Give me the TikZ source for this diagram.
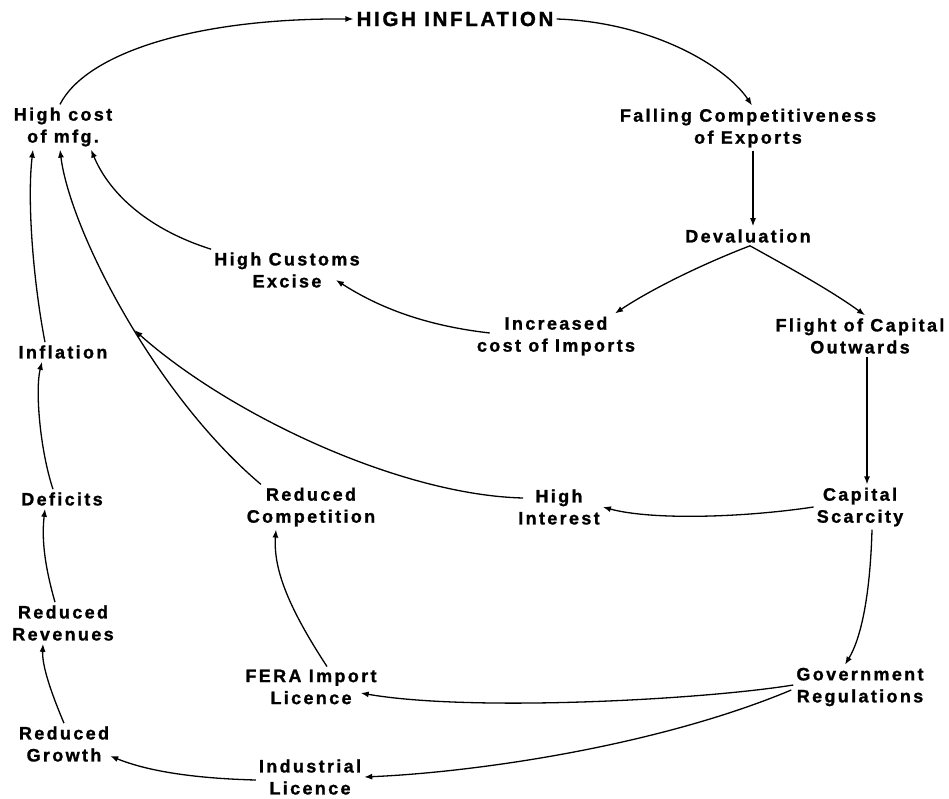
\documentclass[tikz,border=0pt]{standalone}
\usepackage{fontspec}
\setmainfont{Liberation Sans}[LetterSpace=13,BoldFeatures={FakeBold=1.2}]
\usetikzlibrary{arrows.meta,calc}
\begin{document}
\begin{tikzpicture}[x=1pt,y=-1pt,
  lbl/.style={font=\fontsize{18}{22}\selectfont\bfseries, align=center, inner sep=3pt},
  big/.style={font=\fontsize{20.5}{24}\selectfont\bfseries, inner sep=3pt},
  arr/.style={draw=black, line width=1.3pt, -{Latex[length=8pt,width=6pt]}}]
\useasboundingbox (0,0) rectangle (949,798);
% nodes
\node[big] (hi)   at (455,19)  {HIGH INFLATION};
\node[lbl] (hcm)  at (63,127)  {High cost\\of mfg.};
\node[lbl] (fc)   at (748,128) {Falling Competitiveness\\of Exports};
\node[lbl] (dev)  at (748,236) {Devaluation};
\node[lbl] (hce)  at (287,270) {High Customs\\Excise};
\node[lbl] (inc)  at (556,336) {Increased\\cost of Imports};
\node[lbl] (fl)   at (860,336) {Flight of Capital\\Outwards};
\node[lbl] (infl) at (63,352)  {Inflation};
\node[lbl] (def)  at (62,499)  {Deficits};
\node[lbl] (rc)   at (311,507) {Reduced\\Competition};
\node[lbl] (hint) at (559,507) {High\\Interest};
\node[lbl] (cs)   at (860,507) {Capital\\Scarcity};
\node[lbl] (rr)   at (63,623)  {Reduced\\Revenues};
\node[lbl] (fera) at (311,687) {FERA Import\\Licence};
\node[lbl] (gr)   at (860,687) {Government\\Regulations};
\node[lbl] (rg)   at (64,744)  {Reduced\\Growth};
\node[lbl] (il)   at (310,777) {Industrial\\Licence};
% connectors
\draw[arr] ($(hcm.north)+(-3,0)$) .. controls (85,55) and (190,18) .. (hi.west);
\draw[arr] (hi.east) .. controls (650,22) and (725,65) .. ($(fc.north)+(4,0)$);
\draw[arr] ($(fc.south)+(5,0)$) -- ($(dev.north)+(5,0)$);
\draw[arr] ($(dev.south)+(2,0)$) .. controls (700,265) and (650,290) .. ($(inc.north)+(59,0)$);
\draw[arr] ($(dev.south)+(2,0)$) .. controls (790,268) and (830,290) .. ($(fl.north)+(5,0)$);
\draw[arr] ($(fl.south)+(7,0)$) -- ($(cs.north)+(7,0)$);
\draw[arr] (cs.west) .. controls (740,518) and (650,520) .. (hint.east);
\draw[arr] ($(hint.west)+(8,-9)$) .. controls (400,495) and (230,415) .. ($(infl.north east)+(24,-12)$);
\draw[arr] ($(rc.north)+(-50,0)$) .. controls (155,395) and (70,230) .. ($(hcm.south)+(-3,0)$);
\draw[arr] (hce.north west) .. controls (150,230) and (110,195) .. ($(hcm.south)+(28,0)$);
\draw[arr] ($(inc.west)+(16,-3)$) .. controls (420,325) and (375,305) .. ($(hce.east)+(-27,10)$);
\draw[arr] ($(infl.north)+(-18,0)$) .. controls (33,280) and (27,200) .. ($(hcm.south)+(-30,0)$);
\draw[arr] ($(def.north)+(-9,0)$) .. controls (40,450) and (35,390) .. ($(infl.south)+(-21,0)$);
\draw[arr] ($(rr.north)+(-8,0)$) .. controls (43,560) and (42,535) .. ($(def.south)+(-17,0)$);
\draw[arr] (rg.north) .. controls (50,690) and (42,665) .. ($(rr.south)+(-20,0)$);
\draw[arr] ($(il.west)+(0,3)$) .. controls (180,778) and (140,768) .. ($(rg.east)+(-2,12)$);
\draw[arr] ($(gr.west)+(-2,3)$) .. controls (660,745) and (480,772) .. (il.east);
\draw[arr] ($(gr.west)+(0,-2)$) .. controls (700,700) and (470,712) .. ($(fera.east)+(-19,6)$);
\draw[arr] ($(fera.north)+(16,0)$) .. controls (290,610) and (273,570) .. ($(rc.south)+(-35,0)$);
\draw[arr] ($(cs.south)+(12,0)$) .. controls (870,600) and (860,640) .. ($(gr.north)+(-15,0)$);
\end{tikzpicture}
\end{document}
